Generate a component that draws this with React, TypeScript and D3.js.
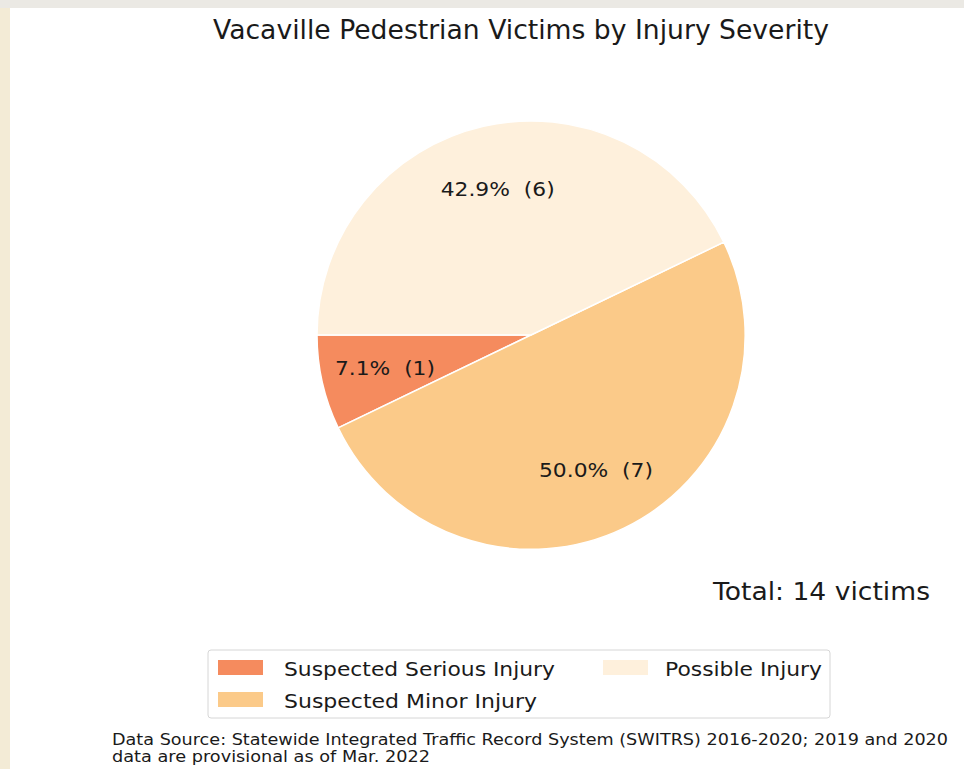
import React from "react";
import * as d3 from "d3";

const categories = ["Suspected Serious Injury", "Suspected Minor Injury", "Possible Injury"];
const victims = [1, 7, 6];
const sliceColors = ["#f58b5e", "#fbca89", "#fef0dc"];
const chartTitle = "Vacaville Pedestrian Victims by Injury Severity";
const totalLabel = "Total: 14 victims";
const sourceLines = [
  "Data Source: Statewide Integrated Traffic Record System (SWITRS) 2016-2020; 2019 and 2020",
  "data are provisional as of Mar. 2022",
];

const W = 964;
const H = 769;
const cx = 531;
const cy = 335;
const radius = 214;
const font = "DejaVu Sans, Verdana, sans-serif";

// widths of the texts as measured on the reference (it is slightly stretched)
const labelWidths = [100, 114, 114];
const legendWidths = [271, 253, 157];
const sourceWidths = [836, 318];

const App = () => {
  const total = d3.sum(victims);
  const rows = categories.map((name, i) => ({ name, value: victims[i], color: sliceColors[i] }));

  // matplotlib style: start at 9 o'clock, go counterclockwise
  const pie = d3
    .pie<{ name: string; value: number; color: string }>()
    .value((d) => d.value)
    .sort(null)
    .startAngle(-Math.PI / 2)
    .endAngle(-Math.PI / 2 - 2 * Math.PI);

  const arcs = pie(rows);
  const arc = d3.arc<d3.PieArcDatum<any>>().innerRadius(0).outerRadius(radius);
  const labelArc = d3
    .arc<d3.PieArcDatum<any>>()
    .innerRadius(radius * 0.7)
    .outerRadius(radius * 0.7);

  // legend in two columns, filled column-wise like matplotlib ncol=2
  const legendItems = [
    { ...rows[0], x: 218, tx: 284, y: 668, w: legendWidths[0] },
    { ...rows[1], x: 218, tx: 284, y: 700, w: legendWidths[1] },
    { ...rows[2], x: 603, tx: 665, y: 668, w: legendWidths[2] },
  ];

  return (
    <svg
      width={W}
      height={H}
      style={{ position: "absolute", left: 0, top: 0, background: "#ffffff" }}
      fontFamily={font}
    >
      <rect x={0} y={0} width={W} height={H} fill="#ffffff" />
      <rect x={0} y={0} width={10} height={H} fill="#f3ebd6" />
      <rect x={0} y={0} width={W} height={8} fill="#ebe9e4" />

      <text
        x={521}
        y={39}
        textAnchor="middle"
        fontSize={26}
        fill="#1a1a1a"
        textLength={616}
        lengthAdjust="spacingAndGlyphs"
      >
        {chartTitle}
      </text>

      <g transform={`translate(${cx},${cy})`}>
        {arcs.map((a, i) => (
          <path key={i} d={arc(a) as string} fill={a.data.color} stroke="#ffffff" strokeWidth={1.5} />
        ))}
        {arcs.map((a, i) => {
          const [lx, ly] = labelArc.centroid(a);
          return (
            <text
              key={i}
              x={lx}
              y={ly}
              dy="0.35em"
              textAnchor="middle"
              fontSize={19.5}
              fill="#1a1a1a"
              textLength={labelWidths[i]}
              lengthAdjust="spacingAndGlyphs"
              style={{ whiteSpace: "pre" }}
            >
              {`${((a.data.value / total) * 100).toFixed(1)}%  (${a.data.value})`}
            </text>
          );
        })}
      </g>

      <text
        x={930}
        y={600}
        textAnchor="end"
        fontSize={25.5}
        fill="#1a1a1a"
        textLength={217}
        lengthAdjust="spacingAndGlyphs"
      >
        {totalLabel}
      </text>

      <rect x={208} y={650} width={622} height={68} rx={3} fill="#ffffff" stroke="#d6d6d6" />
      {legendItems.map((d, i) => (
        <g key={i}>
          <rect x={d.x} y={d.y - 8} width={45} height={15} fill={d.color} />
          <text
            x={d.tx}
            y={d.y + 8}
            fontSize={20}
            fill="#1a1a1a"
            textLength={d.w}
            lengthAdjust="spacingAndGlyphs"
          >
            {d.name}
          </text>
        </g>
      ))}

      {sourceLines.map((line, i) => (
        <text
          key={i}
          x={112}
          y={745 + i * 17}
          fontSize={15}
          fill="#1a1a1a"
          textLength={sourceWidths[i]}
          lengthAdjust="spacingAndGlyphs"
        >
          {line}
        </text>
      ))}
    </svg>
  );
};

export default App;
